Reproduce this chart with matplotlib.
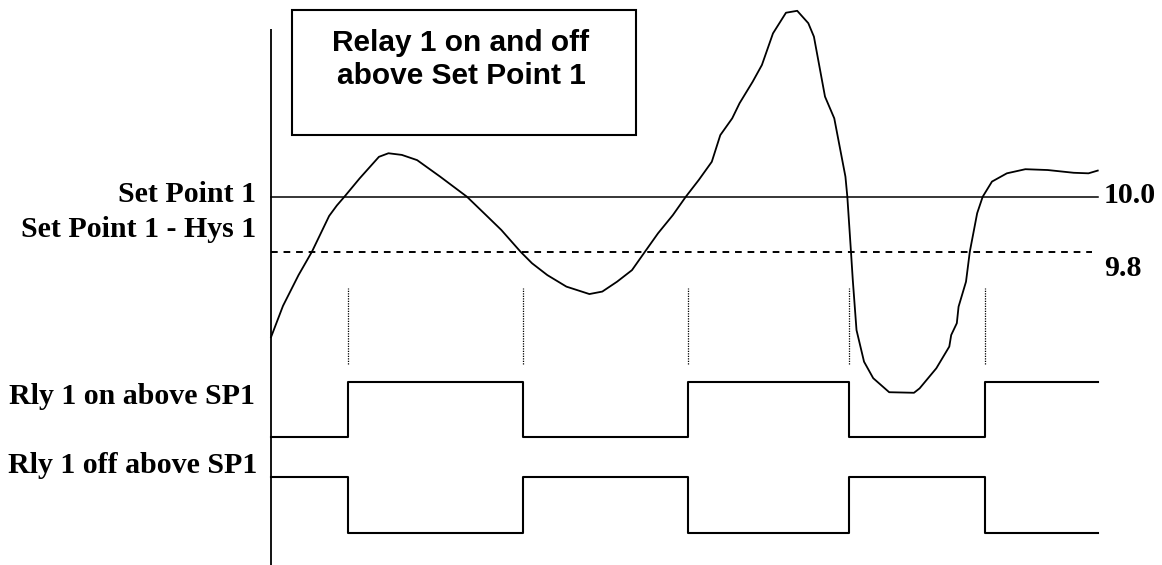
import matplotlib
matplotlib.use("Agg")
import matplotlib.pyplot as plt

# process value trace (time in % of the window, value in PV units)
curve_t = [0, 1.45, 3.33, 4.95, 7.03, 7.96, 8.88, 10.73, 13.05, 14.20, 15.82,
           17.67, 20.45, 23.69, 26.0, 27.85, 30.17, 31.56, 33.41, 35.72, 38.50,
           40.06, 41.85, 43.65, 45.22, 46.80, 48.59, 50.16, 51.73, 53.30, 54.33,
           55.77, 56.66, 58.24, 59.36, 60.70, 62.27, 63.63, 64.97, 65.65, 66.99,
           68.11, 69.46, 69.69, 70.13, 70.35, 70.80, 71.71, 72.82, 74.75, 77.75,
           78.43, 80.45, 82.02, 82.25, 82.93, 83.14, 84.04, 84.50, 85.39, 86.06,
           87.18, 88.98, 91.22, 93.92, 97.06, 98.85, 99.97]
curve_pv = [9.489, 9.603, 9.715, 9.80, 9.930, 9.968, 10.0, 10.067, 10.145, 10.158,
            10.152, 10.133, 10.073, 10.0, 9.933, 9.879, 9.80, 9.758, 9.715, 9.673,
            9.646, 9.655, 9.691, 9.733, 9.80, 9.867, 9.933, 10.0, 10.061, 10.127,
            10.224, 10.285, 10.340, 10.418, 10.479, 10.594, 10.669, 10.676, 10.631,
            10.582, 10.364, 10.285, 10.073, 10.0, 9.80, 9.697, 9.515, 9.40, 9.340,
            9.289, 9.287, 9.303, 9.376, 9.455, 9.497, 9.540, 9.60, 9.691, 9.80,
            9.940, 10.0, 10.055, 10.085, 10.10, 10.097, 10.087, 10.085, 10.095]

set_point = 10.0
hysteresis = 0.2

# relay switching instants
switch_t = [0, 9.34, 30.53, 50.37, 69.95, 86.29, 100]
rly_on_state = [0, 1, 0, 1, 0, 1]
rly_off_state = [1, 0, 1, 0, 1, 0]

# vertical bands used for the two relay traces (PV units)
rly_on_low, rly_on_high = 9.125, 9.327
rly_off_low, rly_off_high = 8.778, 8.981

serif = ["Liberation Serif", "DejaVu Serif"]
sans = ["Liberation Sans", "DejaVu Sans"]

fig = plt.figure(figsize=(11.62, 5.65), dpi=100)
ax = fig.add_axes([0, 0, 1, 1])
ax.set_xlim(-32.77, 107.74)
ax.set_ylim(8.6607, 10.7153)
ax.axis("off")

# vertical axis
ax.plot([0, 0], [10.609, 8.6607], color="black", lw=1.3, solid_capstyle="butt")

# set point and hysteresis lines
ax.plot([0, 100], [set_point, set_point], color="black", lw=1.1)
ax.plot([0, 99.3], [set_point - hysteresis, set_point - hysteresis],
        color="black", lw=1.4, dashes=(3.45, 3.0))

# process value
ax.plot(curve_t, curve_pv, color="black", lw=1.3, solid_joinstyle="round")

# dotted markers at switching instants
for t in switch_t[1:-1]:
    ax.plot([t, t], [9.392, 9.668], color="black", lw=0.9, linestyle=(0, (1, 1)))

# relay traces
on_levels = [rly_on_low + s * (rly_on_high - rly_on_low) for s in rly_on_state]
off_levels = [rly_off_low + s * (rly_off_high - rly_off_low) for s in rly_off_state]
ax.step(switch_t, on_levels + on_levels[-1:], where="post", color="black", lw=1.5)
ax.step(switch_t, off_levels + off_levels[-1:], where="post", color="black", lw=1.5)

# title box
ax.add_patch(plt.Rectangle((2.49, 10.224), 44.1 - 2.49, 10.679 - 10.224,
                           fill=False, edgecolor="black", lw=1.5))
ax.text(22.97, 10.531, "Relay 1 on and off", ha="center", va="baseline",
        fontsize=21.5, fontweight="bold", family=sans)
ax.text(22.97, 10.410, "above Set Point 1", ha="center", va="baseline",
        fontsize=21.5, fontweight="bold", family=sans)

# labels
lbl = dict(ha="right", va="baseline", fontsize=21.5, fontweight="bold", family=serif)
ax.text(-1.8, 9.981, "Set Point 1", **lbl)
ax.text(-1.8, 9.853, "Set Point 1 - Hys 1", **lbl)
ax.text(-1.9, 9.246, "Rly 1 on above SP1", **lbl)
ax.text(-1.7, 8.994, "Rly 1 off above SP1", **lbl)

val = dict(ha="left", va="baseline", fontsize=21.5, fontweight="bold", family=serif)
ax.text(100.7, 9.976, "10.0", **val)
ax.text(100.7, 9.712, "9.8", **val)

fig.savefig("out.png", dpi=100)
